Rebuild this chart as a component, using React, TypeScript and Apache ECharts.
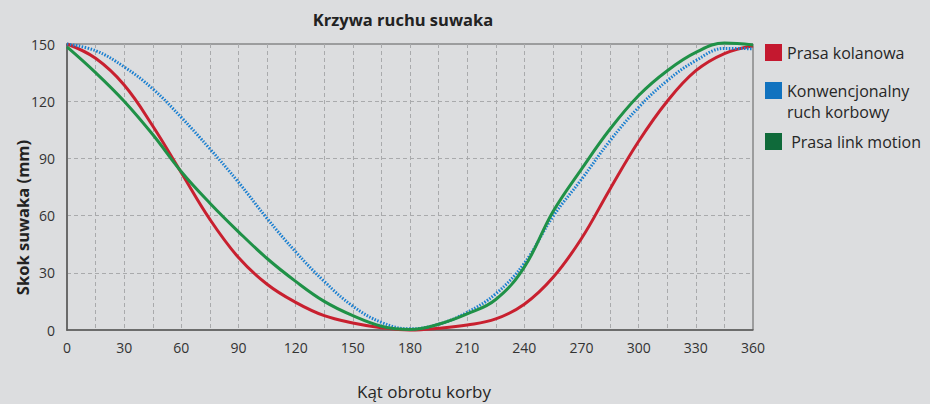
import React, { useEffect, useRef } from "react";
import * as echarts from "echarts";

const angles = [0, 15, 30, 45, 60, 75, 90, 105, 120, 135, 150, 165, 180, 195, 210, 225, 240, 255, 270, 285, 300, 315, 330, 345, 360];
const kolanowa = [150, 142.5, 128.5, 107, 82.5, 58, 38, 24, 14.5, 7.5, 3.7, 1.2, 0, 0.9, 2.6, 5.8, 13.5, 27.5, 48, 74, 99, 120, 136, 145, 149];
const konwencjonalny = [150, 146.5, 138, 126.5, 111.5, 95, 77.5, 58.5, 41, 25.5, 12.5, 4, 0.6, 3, 9.3, 19, 35, 59.5, 79, 99.3, 116.8, 130.8, 141.3, 147.7, 147.5];
const linkMotion = [148.5, 135, 120, 102.5, 83, 66.5, 51.5, 37.5, 25.5, 15, 7.5, 2, 0.3, 3, 8.4, 16, 33, 62, 84.4, 105.4, 123, 136, 145.6, 150.5, 149.5];

const seriesNames = ["Prasa kolanowa", "Konwencjonalny ruch korbowy", "Prasa link motion"];
const FONT = "Open Sans";
const BG = "#dcdddf";

const pairs = (ys: number[]) => angles.map((a, i) => [a, ys[i]]);

export default function App() {
  const ref = useRef<HTMLDivElement>(null);
  useEffect(() => {
    if (!ref.current) return;
    const chart = echarts.init(ref.current, undefined, { renderer: "svg" });
    const legendBase = {
      orient: "vertical" as const,
      left: 765,
      icon: "rect",
      itemWidth: 17,
      itemHeight: 17,
      padding: 0,
      selectedMode: false,
      textStyle: { fontFamily: FONT, fontSize: 16, color: "#262626" },
    };
    chart.setOption({
      animation: false,
      backgroundColor: BG,
      textStyle: { fontFamily: FONT },
      title: {
        text: "Krzywa ruchu suwaka",
        left: 403,
        top: 11,
        padding: 0,
        textAlign: "center",
        textStyle: { fontFamily: FONT, fontSize: 16.5, fontWeight: "bold", color: "#222" },
      },
      grid: {
        left: 67,
        right: 177,
        top: 44,
        bottom: 74,
        containLabel: false,
        outerBoundsMode: "none",
        show: true,
        borderColor: "#5c5c5c",
        borderWidth: 1,
        backgroundColor: "transparent",
      },
      legend: [
        { ...legendBase, top: 44, data: [{ name: seriesNames[0], itemStyle: { color: "#c4182f" } }] },
        {
          ...legendBase,
          top: 82,
          data: [{ name: seriesNames[1], itemStyle: { color: "#1172bf" } }],
          formatter: () => "Konwencjonalny",
        },
        {
          ...legendBase,
          top: 133,
          data: [{ name: seriesNames[2], itemStyle: { color: "#0f6a3a" } }],
          formatter: (n: string) => " " + n,
        },
      ],
      graphic: [
        {
          type: "text",
          left: 787,
          top: 104,
          style: { text: "ruch korbowy", font: `16px "${FONT}"`, fill: "#262626" },
        },
      ],
      xAxis: {
        type: "value",
        min: 0,
        max: 360,
        interval: 30,
        name: "Kąt obrotu korby",
        nameLocation: "middle",
        nameGap: 53,
        nameMoveOverlap: false,
        nameTextStyle: { fontFamily: FONT, fontSize: 17, color: "#262626", padding: [0, 0, 0, 28] },
        axisLine: { show: true, lineStyle: { color: "#5c5c5c", width: 1.5 } },
        axisTick: { show: false },
        axisLabel: { margin: 10, fontFamily: FONT, fontSize: 14, color: "#333" },
        splitLine: { show: true, showMinLine: false, showMaxLine: false, lineStyle: { color: "#a9aaac", type: [4, 3], width: 1 } },
        minorTick: { show: false, splitNumber: 2 },
        minorSplitLine: { show: true, lineStyle: { color: "#a9aaac", type: [4, 3], width: 1 } },
      },
      yAxis: {
        type: "value",
        min: 0,
        max: 150,
        interval: 30,
        name: "Skok suwaka (mm)",
        nameLocation: "middle",
        nameGap: 36,
        nameMoveOverlap: false,
        nameTextStyle: { fontFamily: FONT, fontSize: 16.5, fontWeight: "bold", color: "#222", padding: [0, 61, 0, 0] },
        axisLine: { show: true, lineStyle: { color: "#6a6a6a", width: 2 } },
        axisTick: { show: false },
        axisLabel: { margin: 12, fontFamily: FONT, fontSize: 14, color: "#333" },
        splitLine: { show: true, showMinLine: false, showMaxLine: false, lineStyle: { color: "#a9aaac", type: [4, 3], width: 1 } },
      },
      series: [
        {
          name: seriesNames[1],
          type: "line",
          data: pairs(konwencjonalny),
          smooth: 0.4,
          showSymbol: false,
          clip: false,
          lineStyle: { color: "#1a7fd0", width: 3, type: [1.5, 1.5], cap: "butt" },
          itemStyle: { color: "#1a7fd0" },
          z: 3,
        },
        {
          name: seriesNames[0],
          type: "line",
          data: pairs(kolanowa),
          smooth: 0.4,
          showSymbol: false,
          clip: false,
          lineStyle: { color: "#c8202f", width: 3 },
          itemStyle: { color: "#c8202f" },
          z: 2,
        },
        {
          name: seriesNames[2],
          type: "line",
          data: pairs(linkMotion),
          smooth: 0.4,
          showSymbol: false,
          clip: false,
          lineStyle: { color: "#1f9147", width: 3 },
          itemStyle: { color: "#1f9147" },
          z: 4,
        },
      ],
    });
    return () => chart.dispose();
  }, []);
  return (
    <div
      ref={ref}
      style={{ position: "fixed", left: 0, top: 0, width: 930, height: 404, background: BG }}
    />
  );
}
